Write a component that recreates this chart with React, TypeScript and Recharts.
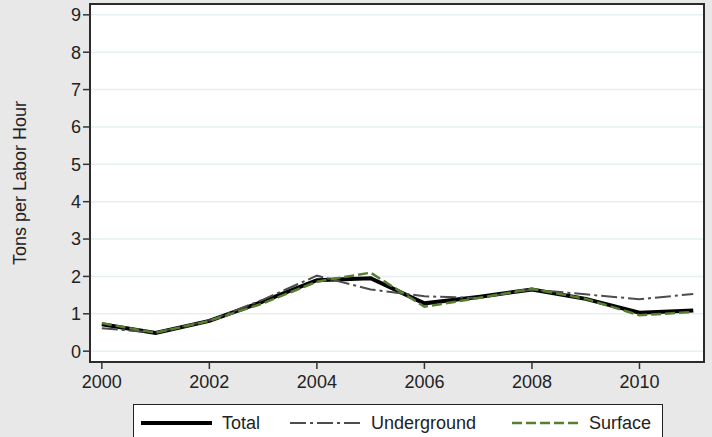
import { LineChart, Line, XAxis, YAxis, CartesianGrid, ReferenceArea } from "recharts";

const years = [2000, 2001, 2002, 2003, 2004, 2005, 2006, 2007, 2008, 2009, 2010, 2011];
const total = [0.72, 0.49, 0.81, 1.33, 1.9, 1.95, 1.28, 1.45, 1.65, 1.4, 1.03, 1.09];
const underground = [0.61, 0.5, 0.82, 1.38, 2.02, 1.65, 1.47, 1.42, 1.65, 1.52, 1.39, 1.53];
const surface = [0.75, 0.49, 0.81, 1.28, 1.86, 2.1, 1.19, 1.42, 1.67, 1.4, 0.96, 1.05];

const xTicks = [2000, 2002, 2004, 2006, 2008, 2010];
const yTicks = [0, 1, 2, 3, 4, 5, 6, 7, 8, 9];

const X_DOMAIN = [1999.78, 2011.2];
const Y_DOMAIN = [-0.29, 9.29];

const FONT = "'Liberation Sans', Arial, sans-serif";

const series = [
  { key: "total", name: "Total", color: "#000000", width: 4, dash: undefined },
  { key: "underground", name: "Underground", color: "#4d4d4d", width: 2, dash: "16 4 3 4" },
  { key: "surface", name: "Surface", color: "#587e30", width: 2.5, dash: "10 4" },
];

const data = years.map((year, i) => ({
  year,
  total: total[i],
  underground: underground[i],
  surface: surface[i],
}));

// legend item positions (line start, text start)
const legendSlots = [
  { x1: 7, x2: 78, tx: 88 },
  { x1: 156, x2: 226, tx: 237 },
  { x1: 378, x2: 445, tx: 455 },
];

function YLabel() {
  return (
    <text
      x={20}
      y={183}
      transform="rotate(-90, 20, 183)"
      textAnchor="middle"
      dominantBaseline="central"
      fontSize={18}
      fill="#222"
      fontFamily={FONT}
    >
      Tons per Labor Hour
    </text>
  );
}

export default function App() {
  return (
    <div style={{ position: "fixed", left: 0, top: 0, width: 712, height: 437, background: "#e8e8e8", overflow: "hidden", fontFamily: FONT }}>
      <LineChart width={712} height={437} data={data} margin={{ top: 4, right: 8, bottom: 0, left: 0 }}>
        <CartesianGrid vertical={false} stroke="#e6eff1" strokeWidth={1.5} fill="#ffffff" />
        <XAxis
          dataKey="year"
          type="number"
          domain={X_DOMAIN}
          ticks={xTicks}
          allowDataOverflow
          height={75}
          tickSize={7}
          tickMargin={6}
          axisLine={false}
          tickLine={{ stroke: "#333", strokeWidth: 1.5 }}
          tick={{ fontSize: 18, fill: "#222", fontFamily: FONT }}
        />
        <YAxis
          type="number"
          domain={Y_DOMAIN}
          ticks={yTicks}
          allowDataOverflow
          width={90}
          tickSize={7}
          tickMargin={2}
          axisLine={false}
          tickLine={{ stroke: "#333", strokeWidth: 1.5 }}
          tick={{ fontSize: 18, fill: "#222", fontFamily: FONT }}
          label={<YLabel />}
        />
        <ReferenceArea
          x1={X_DOMAIN[0]}
          x2={X_DOMAIN[1]}
          y1={Y_DOMAIN[0]}
          y2={Y_DOMAIN[1]}
          fill="none"
          fillOpacity={0}
          stroke="#2b2b2b"
          strokeWidth={2}
          ifOverflow="visible"
        />
        {series.map((s) => (
          <Line
            key={s.key}
            dataKey={s.key}
            name={s.name}
            type="linear"
            stroke={s.color}
            strokeWidth={s.width}
            strokeDasharray={s.dash}
            dot={false}
            activeDot={false}
            isAnimationActive={false}
          />
        ))}
      </LineChart>
      <svg
        width={530}
        height={40}
        style={{ position: "absolute", left: 133, top: 404, background: "#fff", border: "1px solid #222", boxSizing: "border-box" }}
      >
        {series.map((s, i) => (
          <g key={s.key}>
            <line
              x1={legendSlots[i].x1}
              x2={legendSlots[i].x2}
              y1={18}
              y2={18}
              stroke={s.color}
              strokeWidth={s.width}
              strokeDasharray={s.dash}
            />
            <text x={legendSlots[i].tx} y={18} dominantBaseline="central" fontSize={18} fill="#222" fontFamily={FONT}>
              {s.name}
            </text>
          </g>
        ))}
      </svg>
    </div>
  );
}
